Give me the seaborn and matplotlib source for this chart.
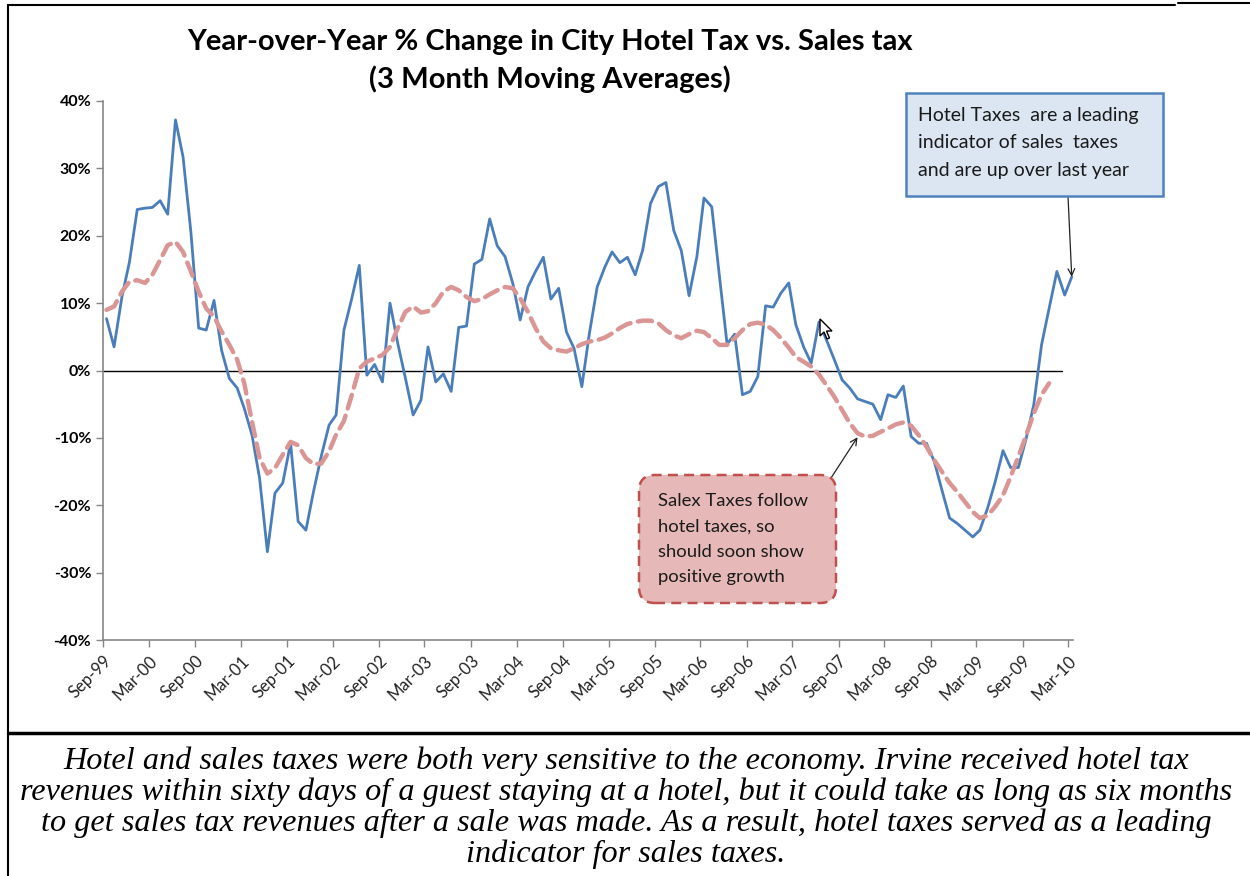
import numpy as np
import pandas as pd
import seaborn as sns
import matplotlib.pyplot as plt
from matplotlib.lines import Line2D
from matplotlib.patches import FancyBboxPatch, Rectangle, Polygon

# -----------------------------
# Data (3 month moving averages, YoY % change), monthly from Sep-99
# -----------------------------
start_month = '1999-09'

hotel_pct = [7.7, 3.5, 10.9, 16.1, 23.9, 24.1, 24.2, 25.2, 23.2, 37.2, 31.7, 20.6, 6.3, 6.0, 10.4, 3.0,
             -1.2, -2.6, -5.6, -9.6, -16.0, -26.9, -18.2, -16.7, -10.8, -22.4, -23.7, -18.0, -12.7, -8.1, -6.6, 6.0,
             10.5, 15.6, -0.7, 0.9, -1.7, 10.0, 4.0, -1.1, -6.6, -4.4, 3.5, -1.7, -0.5, -3.1, 6.4, 6.6,
             15.8, 16.5, 22.5, 18.5, 16.9, 12.9, 7.5, 12.4, 14.7, 16.8, 10.6, 12.2, 5.7, 3.3, -2.4,
             5.5, 12.4, 15.4, 17.6, 16.0, 16.8, 14.2, 17.9, 24.8, 27.3, 27.9, 20.8, 17.8, 11.1, 16.9, 25.6,
             24.3, 14.2, 3.9, 5.4, -3.6, -3.1, -0.9, 9.6, 9.4, 11.5, 13.0, 6.8, 3.5, 1.1, 7.2,
             4.5, 1.6, -1.4, -2.6, -4.2, -4.6, -5.0, -7.3, -3.6, -4.0, -2.3, -9.8, -10.8, -10.8, -13.5, -17.7,
             -21.9, -22.7, -23.7, -24.7, -23.7, -20.4, -16.5, -11.9, -14.4, -14.4, -10.1, -5.1, 3.8, 9.2, 14.7,
             11.2, 13.9]

sales_pct = [9.0, 9.5, 11.7, 13.2, 13.4, 13.0, 14.2, 16.4, 18.6, 19.1, 17.6, 14.7, 11.7, 9.2, 8.0, 5.8,
             3.8, 1.6, -1.9, -7.6, -13.0, -15.3, -14.5, -12.5, -10.6, -11.1, -13.0, -13.9, -13.8, -12.0, -9.5, -7.5,
             -3.8, 0.3, 1.3, 1.8, 2.3, 3.5, 6.3, 8.7, 9.5, 8.6, 8.8, 10.0, 11.7, 12.4, 11.9, 10.9,
             10.3, 10.6, 11.3, 11.9, 12.4, 12.2, 10.7, 8.7, 6.3, 4.3, 3.3, 3.0, 2.8, 3.3, 3.9,
             4.3, 4.5, 4.9, 5.5, 6.3, 6.9, 7.2, 7.4, 7.4, 7.0, 6.0, 5.2, 4.8, 5.4, 5.9, 5.7,
             4.8, 3.8, 3.8, 4.8, 6.0, 6.9, 7.1, 6.8, 6.0, 4.8, 3.4, 2.0, 1.3, 0.6, -0.6,
             -2.2, -3.9, -5.9, -7.8, -9.3, -9.8, -9.7, -9.1, -8.6, -8.0, -7.7, -8.2, -9.6, -11.3, -13.3, -15.0,
             -16.7, -18.0, -19.5, -21.0, -21.9, -21.5, -20.2, -18.5, -15.8, -12.8, -9.6, -6.4, -3.6, -1.9]

y_ticks = [-40, -30, -20, -10, 0, 10, 20, 30, 40]

title = "Year-over-Year % Change in City Hotel Tax vs. Sales tax\n(3 Month Moving Averages)"
hotel_note = "Hotel Taxes  are a leading\nindicator of sales  taxes\nand are up over last year"
sales_note = "Salex Taxes follow\nhotel taxes, so\nshould soon show\npositive growth"
caption = ("Hotel and sales taxes were both very sensitive to the economy. Irvine received hotel tax\n"
           "revenues within sixty days of a guest staying at a hotel, but it could take as long as six months\n"
           "to get sales tax revenues after a sale was made. As a result, hotel taxes served as a leading\n"
           "indicator for sales taxes.")

# mid-month dates
hotel_dates = pd.period_range(start_month, periods=len(hotel_pct), freq='M').to_timestamp() + pd.Timedelta(days=14)
sales_dates = pd.period_range(start_month, periods=len(sales_pct), freq='M').to_timestamp() + pd.Timedelta(days=14)
hotel = pd.DataFrame({'date': hotel_dates, 'pct': hotel_pct})
sales = pd.DataFrame({'date': sales_dates, 'pct': sales_pct})

tick_dates = pd.date_range('1999-09-01', '2010-03-01', freq='6MS')

# -----------------------------
# Plot
# -----------------------------
sns.set_theme(style='white')
plt.rcParams['font.family'] = ['Lato', 'DejaVu Sans']

fig = plt.figure(figsize=(12.5, 8.76), dpi=100)
ax = fig.add_axes([103 / 1250, 1 - 640 / 876, 970 / 1250, 539 / 876])

sns.lineplot(data=hotel, x='date', y='pct', ax=ax, color='#4A7EBB', linewidth=2.0)
sns.lineplot(data=sales, x='date', y='pct', ax=ax, color='#D99694', linewidth=3.2,
             linestyle=(0, (3.2, 1.7)))
ax.lines[-1].set_dash_capstyle('round')
ax.axhline(0, xmin=0, xmax=0.989, color='black', linewidth=1.0, zorder=1)

ax.set_ylim(-40, 40)
ax.set_yticks(y_ticks)
ax.set_yticklabels([f'{v}%' for v in y_ticks], fontsize=11.5, fontweight='bold', color='black')
ax.set_xlim(pd.Timestamp('1999-09-01'), pd.Timestamp('2010-03-20'))
ax.set_xticks(tick_dates)
ax.set_xticklabels([d.strftime('%b-%y') for d in tick_dates], rotation=45, ha='right',
                   rotation_mode='anchor', fontsize=12, color='#222222')
ax.set_xlabel('')
ax.set_ylabel('')
ax.tick_params(axis='both', direction='out', length=5, width=1, color='#868686', left=True, bottom=True)
ax.tick_params(axis='x', pad=4)
for s in ['top', 'right']:
    ax.spines[s].set_visible(False)
for s in ['left', 'bottom']:
    ax.spines[s].set_color('#868686')
    ax.spines[s].set_linewidth(1.2)

# title
fig.text(550 / 1250, 1 - 61 / 876, title, ha='center', va='center', fontsize=21,
         fontweight='bold', linespacing=1.5, color='black')

# note boxes (inches from bottom-left)
tr = fig.dpi_scale_trans
fig.patches.append(Rectangle((9.06, (876 - 196) / 100), 2.57, 1.03, transform=tr, figure=fig,
                             facecolor='#DCE6F2', edgecolor='#4F81BD', linewidth=1.8))
fig.text(9.18, (876 - 143) / 100, hotel_note, transform=tr, ha='left', va='center',
         fontsize=14, color='#1a1a1a', linespacing=1.75)

fig.patches.append(FancyBboxPatch((6.39, (876 - 603) / 100), 1.97, 1.28,
                                  boxstyle='round,pad=0,rounding_size=0.16', transform=tr, figure=fig,
                                  facecolor='#E6B9B8', edgecolor='#C0504D', linewidth=1.8,
                                  linestyle=(0, (4, 2.5))))
fig.text(6.58, (876 - 539) / 100, sales_note, transform=tr, ha='left', va='center',
         fontsize=13.3, color='#1a1a1a', linespacing=1.7)

# arrows to the lines
ax.annotate('', xy=(hotel['date'].iloc[-1], hotel['pct'].iloc[-1]), xycoords='data',
            xytext=(10.68, (876 - 196) / 100), textcoords=tr,
            arrowprops=dict(arrowstyle='->', color='#222222', lw=0.9, shrinkA=0, shrinkB=0))
ax.annotate('', xy=(sales['date'].iloc[98], sales['pct'].iloc[98] - 0.6), xycoords='data',
            xytext=(8.31, (876 - 478) / 100), textcoords=tr,
            arrowprops=dict(arrowstyle='->', color='#222222', lw=0.9, shrinkA=0, shrinkB=0))

# mouse pointer left in the screenshot
cursor = np.array([[0, 0], [0, 17], [4, 13], [7, 20], [9.5, 19], [6.5, 12], [12, 12]])
fig.patches.append(Polygon(np.column_stack([(820 + cursor[:, 0]) / 100, (876 - 319 - cursor[:, 1]) / 100]),
                           closed=True, transform=tr, figure=fig, facecolor='white',
                           edgecolor='black', linewidth=1.0, zorder=5))

# caption
fig.text(626 / 1250, 1 - 808 / 876, caption, ha='center', va='center', fontsize=23.2,
         fontstyle='italic', family='Liberation Serif', linespacing=1.06, color='black')

# frame lines
fig.add_artist(Line2D([8 / 1250, 8 / 1250], [0, 1 - 5 / 876], transform=fig.transFigure, color='black', lw=1.5))
fig.add_artist(Line2D([8 / 1250, 1175 / 1250], [1 - 5 / 876, 1 - 5 / 876], transform=fig.transFigure, color='black', lw=1.5))
fig.add_artist(Line2D([1178 / 1250, 1], [1 - 3 / 876, 1 - 3 / 876], transform=fig.transFigure, color='black', lw=1.5))
fig.add_artist(Line2D([8 / 1250, 1], [1 - 733 / 876, 1 - 733 / 876], transform=fig.transFigure, color='black', lw=2.5))

fig.savefig('out.png', dpi=100)
